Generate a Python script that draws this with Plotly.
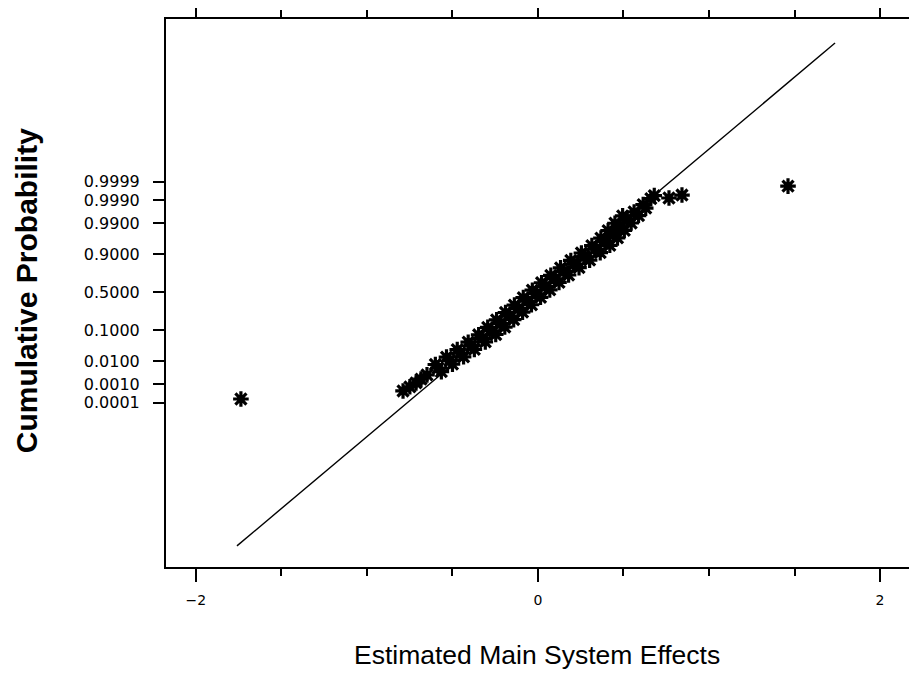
import plotly.graph_objects as go
from statistics import NormalDist

# ---- data (effects vs normal scores) ----
outlier_effects = [-1.737, 0.766, 0.842, 1.462]
outlier_scores = [-3.59, 3.17, 3.27, 3.57]

tail_effects = [-0.789, -0.749, -0.713, -0.684, -0.649, 0.680]
tail_scores = [-3.32, -3.18, -3.05, -2.92, -2.78, 3.25]

center_effects = [-0.585, -0.515, -0.455, -0.390, -0.325, -0.270, -0.218, -0.166,
                  -0.114, -0.062, -0.010, 0.044, 0.098, 0.152, 0.212, 0.272,
                  0.335, 0.395, 0.440, 0.478, 0.522, 0.562, 0.615, 0.660]
center_scores = [-2.55, -2.30, -2.05, -1.80, -1.55, -1.30, -1.05, -0.80,
                 -0.55, -0.30, -0.05, 0.20, 0.45, 0.70, 0.95, 1.20,
                 1.45, 1.70, 1.95, 2.20, 2.45, 2.70, 2.95, 3.15]

left_effects = [-0.600, -0.535, -0.472, -0.408, -0.347, -0.294, -0.242, -0.190,
                -0.138, -0.086, -0.033, 0.021, 0.075, 0.132, 0.192, 0.254,
                0.315, 0.368, 0.410, 0.450, 0.495]
left_scores = [-2.43, -2.18, -1.93, -1.68, -1.43, -1.18, -0.93, -0.68,
               -0.43, -0.18, 0.07, 0.32, 0.57, 0.82, 1.07, 1.32,
               1.57, 1.82, 2.07, 2.32, 2.57]

right_effects = [-0.565, -0.500, -0.435, -0.372, -0.308, -0.247, -0.194, -0.142,
                 -0.090, -0.038, 0.015, 0.069, 0.123, 0.179, 0.240, 0.302,
                 0.364, 0.420, 0.465, 0.505, 0.545, 0.588, 0.630]
right_scores = [-2.67, -2.42, -2.17, -1.92, -1.67, -1.42, -1.17, -0.92,
                -0.67, -0.42, -0.17, 0.08, 0.33, 0.58, 0.83, 1.08,
                1.33, 1.58, 1.83, 2.08, 2.33, 2.58, 2.83]

fit_effects = [-1.760, 1.737]
fit_scores = [-8.53, 8.38]

prob_ticks = [0.0001, 0.0010, 0.0100, 0.1000, 0.5000, 0.9000, 0.9900, 0.9990, 0.9999]
prob_labels = ["0.0001", "0.0010", "0.0100", "0.1000", "0.5000",
               "0.9000", "0.9900", "0.9990", "0.9999"]
x_ticks = [-2, 0, 2]
x_labels = ["\u22122", "0", "2"]

# ---- figure ----
nd = NormalDist()
prob_tick_pos = [nd.inv_cdf(p) for p in prob_ticks]

all_x = outlier_effects + tail_effects + left_effects + center_effects + right_effects
all_y = outlier_scores + tail_scores + left_scores + center_scores + right_scores

fig = go.Figure()
fig.add_trace(go.Scatter(x=fit_effects, y=fit_scores, mode="lines",
                         line=dict(color="black", width=1.4), hoverinfo="skip"))
fig.add_trace(go.Scatter(x=all_x, y=all_y, mode="markers",
                         marker=dict(symbol="asterisk-open", size=13, color="black",
                                     line=dict(color="black", width=3.2))))

axis_common = dict(showline=True, linecolor="black", linewidth=2, mirror="allticks",
                   ticks="outside", tickcolor="black", showgrid=False, zeroline=False,
                   automargin=False)

fig.update_xaxes(range=[-2.175, 2.187], tickvals=x_ticks, ticktext=x_labels,
                 ticklen=13, tickwidth=1.5,
                 minor=dict(dtick=0.5, tick0=0, ticks="outside", ticklen=7,
                            tickcolor="black", tickwidth=1.5, showgrid=False),
                 tickfont=dict(family="DejaVu Sans", size=14, color="black"),
                 ticklabelstandoff=6, **axis_common)
fig.update_yaxes(range=[-9.24, 9.19], tickvals=prob_tick_pos, ticktext=prob_labels,
                 ticklen=11, tickwidth=1.5,
                 tickfont=dict(family="DejaVu Sans", size=16, color="black"),
                 ticklabelstandoff=10, **axis_common)

fig.update_layout(
    width=909, height=666, showlegend=False,
    paper_bgcolor="white", plot_bgcolor="white",
    margin=dict(l=158, r=5, t=11, b=107),
    annotations=[
        dict(text="<b>Cumulative Probability</b>", xref="paper", yref="paper",
             x=-0.1877, y=0.505, textangle=-90, showarrow=False,
             xanchor="center", yanchor="middle",
             font=dict(family="Liberation Sans", size=30, color="black")),
        dict(text="Estimated Main System Effects", xref="paper", yref="paper",
             x=0.497, y=-0.1606, showarrow=False, xanchor="center", yanchor="middle",
             font=dict(family="Liberation Sans", size=26.5, color="black")),
    ],
)

fig.write_html("out.html")
